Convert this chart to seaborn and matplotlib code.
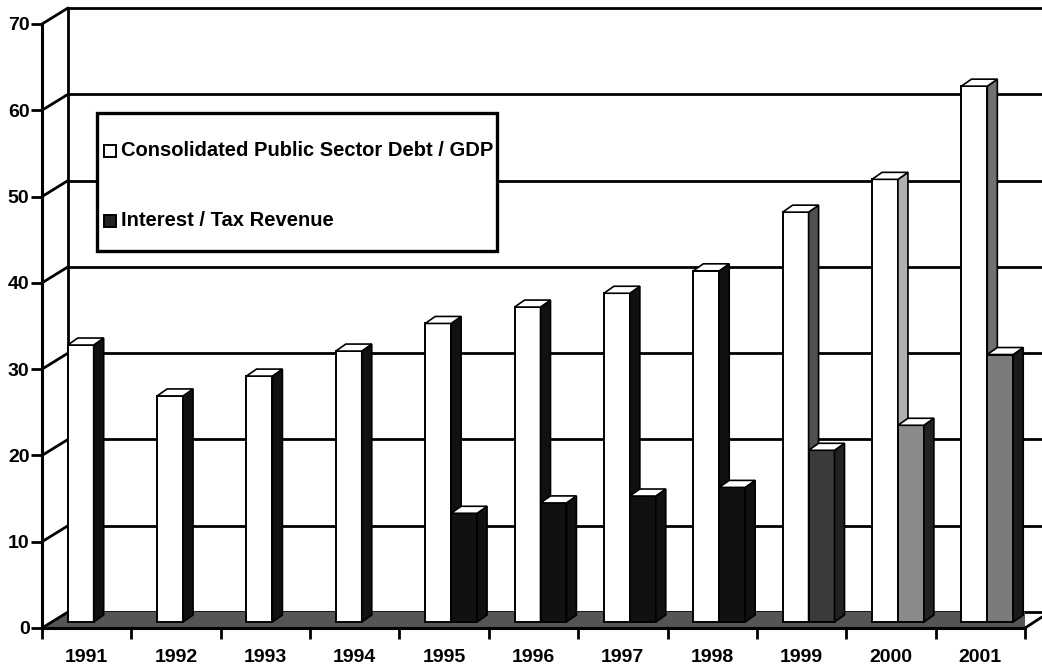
import matplotlib
matplotlib.use("Agg")
import matplotlib.pyplot as plt
from matplotlib.patches import Polygon, Rectangle
from matplotlib.transforms import offset_copy
import seaborn as sns
import pandas as pd

# ---------------- data ----------------
years = ["1991", "1992", "1993", "1994", "1995", "1996", "1997", "1998", "1999", "2000", "2001"]
debt_gdp = [32.1, 26.2, 28.5, 31.4, 34.6, 36.5, 38.1, 40.7, 47.5, 51.3, 62.1]
interest_tax = [0, 0, 0, 0, 12.6, 13.8, 14.6, 15.6, 19.9, 22.8, 31.0]
series_names = ["Consolidated Public Sector Debt / GDP", "Interest / Tax Revenue"]
y_ticks = [0, 10, 20, 30, 40, 50, 60, 70]

# per-bar shading (scan look)
debt_side = ["#111111"] * 8 + ["#505050", "#b0b0b0", "#707070"]
int_front = ["#111111"] * 8 + ["#3a3a3a", "#8a8a8a", "#7a7a7a"]
int_side = ["#111111"] * 8 + ["#222222", "#222222", "#1a1a1a"]

df = pd.DataFrame({
    "year": years * 2,
    "value": debt_gdp + interest_tax,
    "series": [series_names[0]] * len(years) + [series_names[1]] * len(years),
})

sns.set_theme(style="white")
plt.rcParams["font.family"] = ["Liberation Sans", "DejaVu Sans"]
plt.rcParams["font.weight"] = "bold"
plt.rcParams["text.color"] = "black"
plt.rcParams["xtick.color"] = "black"
plt.rcParams["ytick.color"] = "black"
plt.rcParams["xtick.labelcolor"] = "black"
plt.rcParams["ytick.labelcolor"] = "black"

W, H = 1042, 667
fig = plt.figure(figsize=(W / 100, H / 100), dpi=100)
fig.patch.set_facecolor("white")
ax = fig.add_axes([42 / W, (H - 628) / H, (1025 - 42) / W, (628 - 24) / H])
ax.set_facecolor("none")

sns.barplot(data=df, x="year", y="value", hue="series", hue_order=series_names,
            palette=["white", "black"], width=0.58, edgecolor="black",
            linewidth=1.4, ax=ax, legend=False, saturation=1)

ax.set_xlim(-0.5, len(years) - 0.5)
ax.set_ylim(0, 70)

# depth offsets (pixels)
bar_tr = offset_copy(ax.transData, fig=fig, x=7, y=6, units="dots")
back_tr = offset_copy(ax.transData, fig=fig, x=26, y=16, units="dots")
px_x = (len(years)) / (1025 - 42)   # category units per pixel
px_y = 70 / (628 - 24)              # value units per pixel
ddx, ddy = 10 * px_x, 7 * px_y

# ------------- back wall / floor -------------
xl, xr = -0.5, len(years) - 0.5 + 0.3
for v in y_ticks:
    ax.plot([xl, xr], [v, v], color="black", lw=2, transform=back_tr,
            clip_on=False, zorder=1, solid_capstyle="butt")
ax.plot([xl, xl], [0, 70], color="black", lw=2, transform=back_tr, clip_on=False, zorder=1)
# side-wall diagonals
for v in y_ticks:
    x0, y0 = ax.transData.transform((xl, v))
    x1, y1 = back_tr.transform((xl, v))
    ax.plot([x0, x1], [y0, y1], color="black", lw=2, transform=None, clip_on=False, zorder=2)
# floor
fx0, fy0 = ax.transData.transform((xl, 0))
fx1, _ = ax.transData.transform((len(years) - 0.5, 0))
bx0, by0 = back_tr.transform((xl, 0))
floor = Polygon([(fx0, fy0), (fx1, fy0), (fx1 + 17, fy0 + 11), (W, by0 + 5), (W, by0), (bx0, by0)],
                closed=True, facecolor="#555555", edgecolor="none", transform=None, zorder=1.5)
ax.add_patch(floor)
ax.plot([fx1, fx1 + 17], [fy0, fy0 + 11], color="black", lw=2, transform=None, clip_on=False, zorder=2)

# ------------- 3D bars -------------
n = len(years)
for k, p in enumerate([b for b in ax.patches if isinstance(b, Rectangle)][:2 * n]):
    s, i = divmod(k, n)
    h = p.get_height()
    if h <= 0:
        p.set_visible(False)
        continue
    z = 3 + i * 2 + s
    p.set_transform(bar_tr)
    p.set_zorder(z)
    x0 = p.get_x()
    x1 = x0 + p.get_width()
    if s == 1:
        p.set_facecolor(int_front[i])
        side_c = int_side[i]
    else:
        side_c = debt_side[i]
    side = Polygon([(x1, 0), (x1 + ddx, ddy), (x1 + ddx, h + ddy), (x1, h)], closed=True,
                   facecolor=side_c, edgecolor="black", lw=1.2, transform=bar_tr, zorder=z)
    top = Polygon([(x0, h), (x0 + ddx, h + ddy), (x1 + ddx, h + ddy), (x1, h)], closed=True,
                  facecolor="white", edgecolor="black", lw=1.2, transform=bar_tr, zorder=z)
    ax.add_patch(side)
    ax.add_patch(top)

# ------------- axes / ticks -------------
for sp in ["top", "right"]:
    ax.spines[sp].set_visible(False)
for sp in ["left", "bottom"]:
    ax.spines[sp].set_linewidth(2.2)
    ax.spines[sp].set_color("black")
    ax.spines[sp].set_zorder(40)

ax.set_yticks(y_ticks)
ax.set_yticklabels([str(v) for v in y_ticks], fontsize=14, fontweight="bold", color="black")
ax.tick_params(axis="y", left=True, length=8, width=2, pad=1, color="black")
ax.set_xticks(range(n))
ax.set_xticklabels(years, fontsize=14, fontweight="bold", color="black")
ax.set_xticks([i - 0.5 for i in range(n + 1)], minor=True)
ax.tick_params(axis="x", which="major", bottom=False, length=0, pad=15)
ax.tick_params(axis="x", which="minor", bottom=True, length=8, width=2, color="black")
ax.set_xlabel("")
ax.set_ylabel("")
ax.grid(False)

# ------------- legend box -------------
lx0, ly0, lx1, ly1 = 97, 113, 497, 251
fig.patches.append(Rectangle((lx0 / W, 1 - ly1 / H), (lx1 - lx0) / W, (ly1 - ly0) / H,
                             transform=fig.transFigure, facecolor="white", edgecolor="black",
                             lw=2.4, zorder=50))
leg_y = [151, 221]
leg_fc = ["white", "#222222"]
for name, yy, fc in zip(series_names, leg_y, leg_fc):
    fig.patches.append(Rectangle((104 / W, 1 - (yy + 6) / H), 12 / W, 12 / H,
                                 transform=fig.transFigure, facecolor=fc, edgecolor="black",
                                 lw=1.4, zorder=51))
    fig.text(121 / W, 1 - yy / H, name, fontsize=14.5, fontweight="bold", color="black",
             va="center", ha="left", zorder=52)

fig.savefig("out.png", dpi=100)
